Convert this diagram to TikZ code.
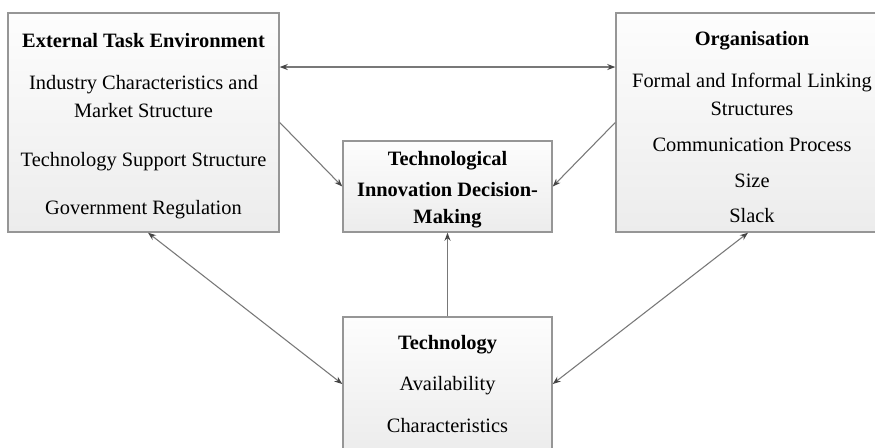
\documentclass[tikz,border=0pt]{standalone}
\usepackage{fontspec}
\setmainfont{Liberation Serif}
\usetikzlibrary{arrows.meta,shadings}
\definecolor{boxtop}{RGB}{253,253,253}
\definecolor{boxbot}{RGB}{236,236,236}
\definecolor{boxline}{RGB}{150,150,150}
\definecolor{arrline}{RGB}{120,120,120}
\definecolor{arrhead}{RGB}{70,70,70}
\begin{document}
\begin{tikzpicture}[x=0.75pt,y=-0.75pt,
  box/.style={rectangle,draw=boxline,line width=1.1pt,top color=boxtop,bottom color=boxbot,inner sep=0pt},
  txt/.style={font=\fontsize{15.3pt}{18pt}\selectfont,inner sep=0pt,anchor=center,yshift=-2pt},
  ttl/.style={txt,font=\fontsize{15.3pt}{18pt}\selectfont\bfseries},
  arr/.style={draw=arrline,line width=0.8pt,-{Stealth[length=6pt,width=4.5pt,color=arrhead,fill=arrhead]}},
  darr/.style={draw=arrline,line width=0.8pt,{Stealth[length=6pt,width=4.5pt,color=arrhead,fill=arrhead]}-{Stealth[length=6pt,width=4.5pt,color=arrhead,fill=arrhead]}}]
\useasboundingbox (0,0) rectangle (875,448);
\clip (0,0) rectangle (875,448);
\fill[white] (0,0) rectangle (875,448);
% boxes
\node[box,minimum width=203.25pt,minimum height=164.25pt] (ext) at (143.5,122.5) {};
\node[box,minimum width=204pt,minimum height=164.25pt] (org) at (752,122.5) {};
\node[box,minimum width=156.75pt,minimum height=68.25pt] (tid) at (447.5,186.5) {};
\node[box,minimum width=156.75pt,minimum height=100.5pt] (tech) at (447.5,384) {};
% texts external
\node[ttl] (t1) at (143.5,38) {External Task Environment};
\node[txt] (t2) at (143.5,82) {Industry Characteristics and};
\node[txt] (t3) at (143.5,108) {Market Structure};
\node[txt] (t4) at (143.5,159) {Technology Support Structure};
\node[txt] (t5) at (143.5,207) {Government Regulation};
% organisation
\node[ttl] (o1) at (752,38) {Organisation};
\node[txt] (o2) at (752,80) {Formal and Informal Linking};
\node[txt] (o3) at (752,106) {Structures};
\node[txt] (o4) at (752,142) {Communication Process};
\node[txt] (o5) at (752,178) {Size};
\node[txt] (o6) at (752,213) {Slack};
% tid
\node[ttl] (d1) at (447.5,158) {Technological};
\node[ttl] (d2) at (447.5,187) {Innovation Decision-};
\node[ttl] (d3) at (447.5,216) {Making};
% technology
\node[ttl] (g1) at (447.5,342) {Technology};
\node[txt] (g2) at (447.5,383) {Availability};
\node[txt] (g3) at (447.5,423) {Characteristics};
% connectors
\draw[darr] ([yshift=41.6pt]ext.east) -- ([yshift=41.6pt]org.west);
\draw[arr] (ext.east) -- (tid.west);
\draw[arr] (org.west) -- (tid.east);
\draw[arr] (tech.north) -- (tid.south);
\draw[darr] ([xshift=3.4pt]ext.south) -- (tech.west);
\draw[darr] ([xshift=-3pt]org.south) -- (tech.east);
\end{tikzpicture}
\end{document}
